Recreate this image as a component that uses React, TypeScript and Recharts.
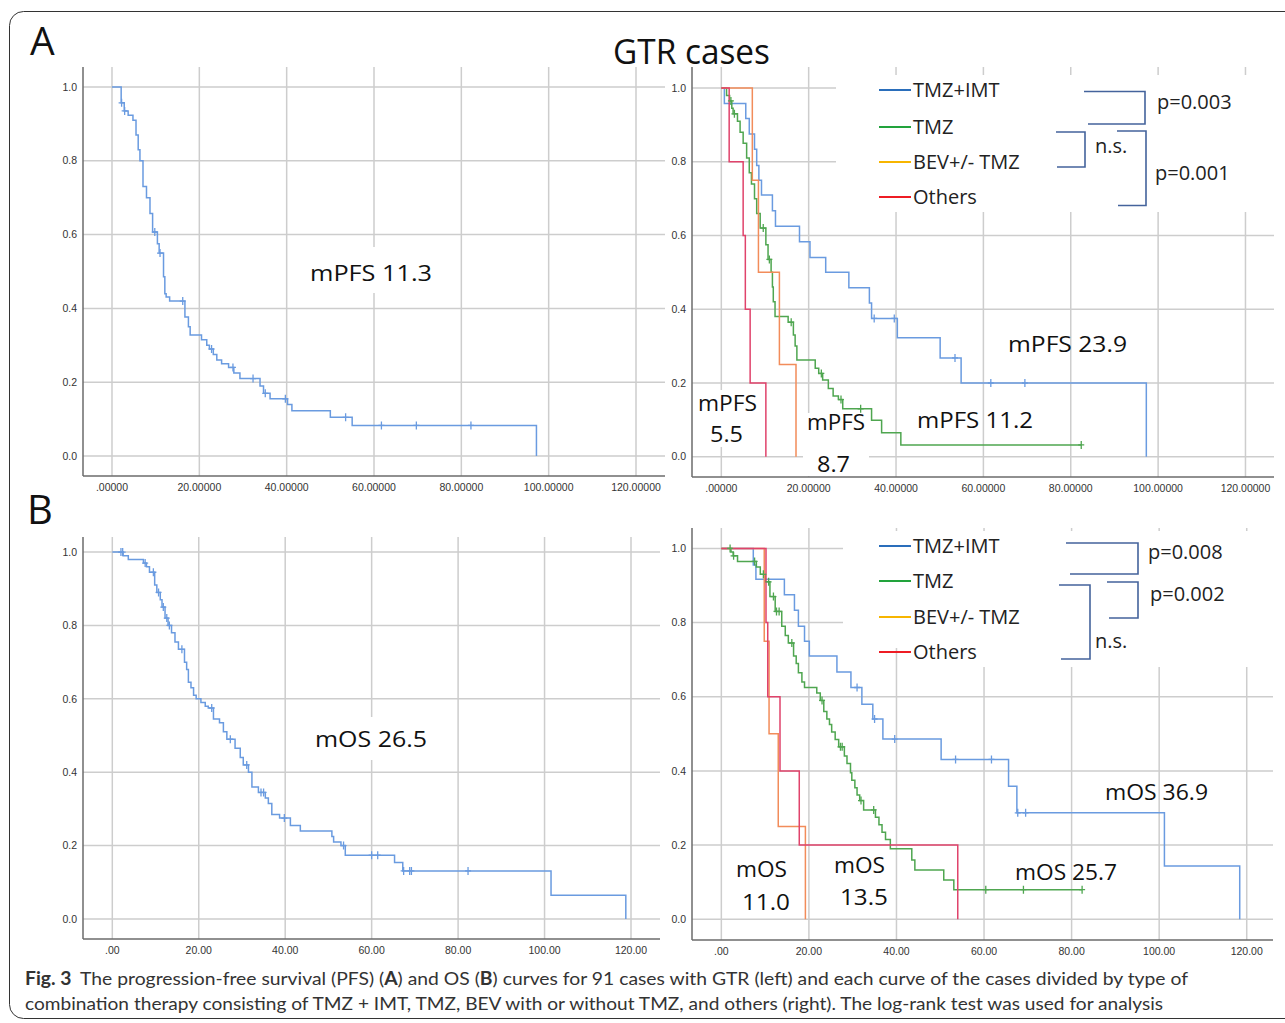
import React from 'react';
import { ComposedChart, Line, Scatter, XAxis, YAxis, CartesianGrid } from 'recharts';

// ---------------- DATA ----------------
const X_TICKS = [0, 20, 40, 60, 80, 100, 120];
const Y_TICKS = [0, 0.2, 0.4, 0.6, 0.8, 1.0];
const GROUP_NAMES = ['TMZ+IMT', 'TMZ', 'BEV+/- TMZ', 'Others'];

// A left: PFS, all GTR cases
const pfsAllT = [0, 2.1, 2.8, 3.7, 4.8, 5.5, 6.0, 6.4, 7.1, 7.9, 8.7, 9.3, 10.4, 10.8, 11.8, 12.1, 12.4, 13.2, 16.7, 17.5, 17.9, 20.5, 21.7, 22.3, 23.2, 24.0, 25.1, 26.7, 27.9, 29.3, 33.9, 34.7, 36.2, 40.2, 41.2, 50.0, 55.0, 97.2];
const pfsAllS = [1, 0.957, 0.935, 0.923, 0.91, 0.87, 0.83, 0.8, 0.73, 0.7, 0.657, 0.607, 0.575, 0.55, 0.486, 0.44, 0.431, 0.42, 0.377, 0.35, 0.328, 0.315, 0.3, 0.29, 0.275, 0.26, 0.25, 0.24, 0.225, 0.21, 0.19, 0.17, 0.155, 0.14, 0.123, 0.105, 0.083, 0];
const pfsAllC = [2.2, 2.9, 9.8, 11.0, 16.2, 22.8, 27.7, 32.3, 35.1, 39.7, 53.5, 61.7, 69.7, 82.2];

// A right: PFS by group
const pfsImtT = [0, 0.7, 5.6, 6.4, 7.6, 8.1, 8.6, 9.2, 11.7, 12.4, 17.9, 20.3, 23.9, 29.2, 33.9, 34.4, 40.3, 50.1, 54.9, 97.3];
const pfsImtS = [1, 0.958, 0.917, 0.875, 0.834, 0.79, 0.75, 0.71, 0.667, 0.625, 0.583, 0.54, 0.5, 0.458, 0.417, 0.375, 0.323, 0.268, 0.2, 0];
const pfsImtC = [35.0, 39.6, 53.5, 61.7, 69.5];

const pfsTmzT = [0, 1.2, 1.9, 2.4, 2.7, 3.7, 4.3, 5.0, 5.8, 6.4, 6.9, 7.6, 8.1, 8.9, 10.2, 10.7, 11.4, 11.7, 11.9, 12.3, 15.3, 16.5, 16.9, 17.3, 21.5, 22.3, 23.2, 24.5, 25.6, 26.8, 27.8, 34.4, 36.7, 41.1, 82.4];
const pfsTmzS = [1, 0.98, 0.965, 0.945, 0.93, 0.91, 0.88, 0.85, 0.81, 0.77, 0.74, 0.7, 0.66, 0.62, 0.575, 0.535, 0.5, 0.46, 0.42, 0.38, 0.365, 0.33, 0.3, 0.262, 0.24, 0.226, 0.208, 0.185, 0.165, 0.155, 0.13, 0.099, 0.065, 0.032, 0.032];
const pfsTmzC = [2.2, 3.0, 9.6, 11.0, 16.0, 22.9, 27.4, 31.9, 82.4];

const pfsBevT = [0, 7.1, 8.5, 13.3, 17.1];
const pfsBevS = [1, 0.75, 0.5, 0.25, 0];

const pfsOthT = [0, 1.8, 5.0, 5.5, 6.6, 10.2];
const pfsOthS = [1, 0.8, 0.6, 0.4, 0.2, 0];

// B left: OS, all GTR cases
const osAllT = [0, 2.5, 3.7, 7.2, 7.9, 8.6, 9.8, 10.3, 11.1, 11.5, 12.2, 12.9, 13.7, 14.5, 15.3, 16.7, 17.2, 17.6, 18.2, 18.8, 19.4, 20.5, 21.5, 22.2, 23.4, 24.8, 25.7, 26.5, 28.4, 29.6, 30.3, 31.5, 32.3, 33.8, 35.4, 36.1, 36.9, 38.7, 41.2, 43.5, 50.8, 51.2, 52.9, 53.9, 65.3, 67.2, 101.5, 118.8];
const osAllS = [1, 0.99, 0.98, 0.97, 0.96, 0.945, 0.91, 0.89, 0.87, 0.85, 0.82, 0.8, 0.78, 0.755, 0.735, 0.7, 0.68, 0.645, 0.63, 0.61, 0.6, 0.59, 0.58, 0.575, 0.545, 0.535, 0.51, 0.49, 0.465, 0.44, 0.42, 0.4, 0.36, 0.345, 0.33, 0.315, 0.285, 0.275, 0.255, 0.24, 0.225, 0.21, 0.2, 0.174, 0.154, 0.131, 0.065, 0];
const osAllC = [2.0, 2.4, 7.6, 9.5, 10.7, 11.8, 12.6, 13.2, 16.1, 23.0, 27.3, 31.1, 34.4, 35.0, 39.8, 53.5, 60.0, 61.4, 67.4, 68.8, 69.2, 82.3];

// B right: OS by group
const osImtT = [0, 7.3, 7.9, 14.4, 16.7, 17.6, 19.0, 20.1, 26.4, 29.6, 32.1, 34.6, 36.9, 50.2, 65.6, 67.5, 101.2, 118.4];
const osImtS = [1, 0.955, 0.917, 0.875, 0.833, 0.79, 0.75, 0.71, 0.667, 0.625, 0.58, 0.54, 0.486, 0.431, 0.359, 0.287, 0.144, 0];
const osImtC = [31.0, 35.0, 39.6, 53.5, 61.7, 67.7, 69.5];

const osTmzT = [0, 2.2, 2.7, 3.7, 8.0, 8.9, 10.0, 11.1, 12.3, 13.8, 14.6, 15.3, 16.5, 17.1, 17.6, 18.4, 19.0, 21.8, 22.6, 23.4, 24.1, 24.7, 25.2, 26.0, 26.8, 28.1, 28.7, 29.5, 29.8, 30.5, 31.0, 31.6, 32.5, 35.2, 36.0, 36.7, 37.5, 38.6, 43.5, 44.2, 50.8, 53.1, 82.4];
const osTmzS = [1, 0.99, 0.98, 0.965, 0.95, 0.93, 0.91, 0.87, 0.83, 0.79, 0.765, 0.745, 0.71, 0.69, 0.665, 0.64, 0.625, 0.61, 0.59, 0.56, 0.54, 0.525, 0.505, 0.485, 0.465, 0.44, 0.42, 0.395, 0.375, 0.355, 0.335, 0.32, 0.295, 0.275, 0.255, 0.235, 0.215, 0.19, 0.16, 0.133, 0.106, 0.08, 0.08];
const osTmzC = [2.0, 2.8, 7.6, 9.6, 10.8, 11.9, 12.6, 13.2, 16.1, 23.0, 27.2, 27.6, 31.9, 34.8, 60.4, 69.0, 82.4];

const osBevT = [0, 9.8, 10.9, 13.0, 19.2];
const osBevS = [1, 0.75, 0.5, 0.25, 0];

const osOthT = [0, 10.2, 10.6, 13.4, 17.8, 54.0];
const osOthS = [1, 0.8, 0.6, 0.4, 0.2, 0];

// ---------------- STYLE ----------------
const CURVE = { imt: '#6a9be0', tmz: '#4fa650', bev: '#f28c5a', oth: '#e0436b' };
const SWATCH = ['#2a6ebb', '#22a33c', '#f7b500', '#ee1c24'];
const GRID = '#cdcdcd';
const AXIS = '#6b6b6b';
const SANS = "'Open Sans', 'Noto Sans', sans-serif";
const TICKFONT = "'Liberation Sans', Arial, sans-serif";
const BRACKET = '#44639c';

type Series = { key: string; color: string; times: number[]; surv: number[]; cens: number[] };

function steps(times: number[], surv: number[]) {
  return times.map((t, i) => ({ t, s: surv[i] }));
}
function censorPts(times: number[], surv: number[], cens: number[]) {
  return cens.map((c) => {
    let s = surv[0];
    for (let i = 0; i < times.length; i++) if (times[i] <= c) s = surv[i];
    return { t: c, s };
  });
}

const makePlus = (color: string) => (props: any) => {
  const { cx, cy } = props;
  if (cx == null || cy == null) return <g />;
  return (
    <path d={`M${cx},${cy - 4}V${cy + 4}M${cx - 3},${cy}H${cx + 3}`} stroke={color} strokeWidth={1.3} fill="none" />
  );
};

type Geo = { px0: number; px1: number; py0: number; py1: number; xDomain: [number, number]; yDomain: [number, number] };

function KMPanel({ geo, series, xFmt }: { geo: Geo; series: Series[]; xFmt: (v: number) => string }) {
  const yAxisW = 40, mt = 4, mr = 8, xAxisH = 26;
  const left = geo.px0 - yAxisW;
  const top = geo.py0 - mt;
  const width = geo.px1 - left + mr;
  const height = geo.py1 - top + xAxisH;
  return (
    <div style={{ position: 'absolute', left, top, width, height }}>
      <ComposedChart width={width} height={height} margin={{ top: mt, right: mr, bottom: 0, left: 0 }}>
        <CartesianGrid stroke={GRID} strokeWidth={1.5} syncWithTicks />
        <XAxis
          type="number"
          dataKey="t"
          domain={geo.xDomain}
          ticks={X_TICKS}
          interval={0}
          allowDataOverflow
          tickFormatter={xFmt}
          height={xAxisH}
          tickLine={false}
          axisLine={{ stroke: AXIS, strokeWidth: 1.5 }}
          tick={{ fontSize: 10.5, fill: '#333', fontFamily: TICKFONT }}
        />
        <YAxis
          type="number"
          dataKey="s"
          domain={geo.yDomain}
          ticks={Y_TICKS}
          interval={0}
          allowDataOverflow
          width={yAxisW}
          tickSize={4}
          tickLine={false}
          tickFormatter={(v: number) => v.toFixed(1)}
          axisLine={{ stroke: AXIS, strokeWidth: 1.5 }}
          tick={{ fontSize: 10.5, fill: '#333', fontFamily: TICKFONT }}
        />
        {series.map((s) => (
          <Line
            key={'l' + s.key}
            data={steps(s.times, s.surv)}
            dataKey="s"
            type="stepAfter"
            stroke={s.color}
            strokeWidth={1.5}
            dot={false}
            activeDot={false}
            isAnimationActive={false}
          />
        ))}
        {series
          .filter((s) => s.cens.length > 0)
          .map((s) => (
            <Scatter
              key={'c' + s.key}
              data={censorPts(s.times, s.surv, s.cens)}
              dataKey="s"
              shape={makePlus(s.color)}
              isAnimationActive={false}
            />
          ))}
      </ComposedChart>
    </div>
  );
}

const fmtA = (v: number) => (v === 0 ? '.00000' : v.toFixed(5));
const fmtB = (v: number) => (v === 0 ? '.00' : v.toFixed(2));

const GEO_AL: Geo = { px0: 83, px1: 665, py0: 67, py1: 476, xDomain: [-6.64, 126.64], yDomain: [-0.054, 1.054] };
const GEO_AR: Geo = { px0: 692, px1: 1274, py0: 67, py1: 477, xDomain: [-6.71, 126.53], yDomain: [-0.055, 1.057] };
const GEO_BL: Geo = { px0: 83, px1: 660, py0: 537, py1: 939, xDomain: [-6.78, 126.71], yDomain: [-0.0545, 1.041] };
const GEO_BR: Geo = { px0: 692, px1: 1273, py0: 528, py1: 940, xDomain: [-6.7, 126.0], yDomain: [-0.0558, 1.055] };

const seriesAL: Series[] = [{ key: 'all', color: CURVE.imt, times: pfsAllT, surv: pfsAllS, cens: pfsAllC }];
const seriesAR: Series[] = [
  { key: 'imt', color: CURVE.imt, times: pfsImtT, surv: pfsImtS, cens: pfsImtC },
  { key: 'tmz', color: CURVE.tmz, times: pfsTmzT, surv: pfsTmzS, cens: pfsTmzC },
  { key: 'bev', color: CURVE.bev, times: pfsBevT, surv: pfsBevS, cens: [] },
  { key: 'oth', color: CURVE.oth, times: pfsOthT, surv: pfsOthS, cens: [] },
];
const seriesBL: Series[] = [{ key: 'all', color: CURVE.imt, times: osAllT, surv: osAllS, cens: osAllC }];
const seriesBR: Series[] = [
  { key: 'imt', color: CURVE.imt, times: osImtT, surv: osImtS, cens: osImtC },
  { key: 'tmz', color: CURVE.tmz, times: osTmzT, surv: osTmzS, cens: osTmzC },
  { key: 'bev', color: CURVE.bev, times: osBevT, surv: osBevS, cens: [] },
  { key: 'oth', color: CURVE.oth, times: osOthT, surv: osOthS, cens: [] },
];

// annotation layout
type Ann = { text: string; x: number; y: number; w: number; bg?: [number, number, number, number] };
const ANNS: Ann[] = [
  { text: 'mPFS 11.3', x: 310, y: 281, w: 122, bg: [300, 247, 142, 46] },
  { text: 'mPFS  23.9', x: 1008, y: 352, w: 119 },
  { text: 'mPFS  11.2', x: 917, y: 428, w: 116 },
  { text: 'mPFS', x: 698, y: 411, w: 59, bg: [694, 390, 68, 57] },
  { text: '5.5', x: 710, y: 442, w: 33 },
  { text: 'mPFS', x: 807, y: 430, w: 58, bg: [803, 413, 66, 63] },
  { text: '8.7', x: 817, y: 472, w: 33 },
  { text: 'mOS 26.5', x: 315, y: 747, w: 112, bg: [305, 717, 135, 43] },
  { text: 'mOS 36.9', x: 1105, y: 800, w: 103 },
  { text: 'mOS 25.7', x: 1015, y: 880, w: 102 },
  { text: 'mOS', x: 736, y: 877, w: 51 },
  { text: '11.0', x: 742, y: 910, w: 48 },
  { text: 'mOS', x: 834, y: 873, w: 51 },
  { text: '13.5', x: 840, y: 905, w: 48 },
];

type Legend = { rows: number[]; boxes: [number, number, number, number][]; brackets: string[]; pTexts: { t: string; x: number; y: number }[] };
const LEG_A: Legend = {
  rows: [97, 134, 169, 204],
  boxes: [[836, 75, 449, 137]],
  brackets: ['M1084,91.5H1145V124H1088', 'M1056,132H1085V167H1057', 'M1117,131H1146V205.5H1118'],
  pTexts: [
    { t: 'p=0.003', x: 1157, y: 109 },
    { t: 'n.s.', x: 1095, y: 153 },
    { t: 'p=0.001', x: 1155, y: 180 },
  ],
};
const LEG_B: Legend = {
  rows: [553, 588, 624, 659],
  boxes: [[843, 531, 120, 117], [960, 531, 325, 136]],
  brackets: ['M1066,543H1138V574H1070', 'M1107,582H1138V618H1109', 'M1059,585H1090V659H1061'],
  pTexts: [
    { t: 'p=0.008', x: 1148, y: 559 },
    { t: 'p=0.002', x: 1150, y: 601 },
    { t: 'n.s.', x: 1095, y: 648 },
  ],
};

function LegendBlock({ L }: { L: Legend }) {
  return (
    <g>
      {L.boxes.map((b, i) => (
        <rect key={'b' + i} x={b[0]} y={b[1]} width={b[2]} height={b[3]} fill="#fff" />
      ))}
      {GROUP_NAMES.map((n, i) => (
        <g key={n}>
          <line x1={879} x2={911} y1={L.rows[i] - 7} y2={L.rows[i] - 7} stroke={SWATCH[i]} strokeWidth={2} />
          <text x={913} y={L.rows[i]} fontSize={20} fontFamily={SANS} fill="#222">
            {n}
          </text>
        </g>
      ))}
      {L.brackets.map((d, i) => (
        <path key={'k' + i} d={d} stroke={BRACKET} strokeWidth={1.6} fill="none" />
      ))}
      {L.pTexts.map((p, i) => (
        <text key={'p' + i} x={p.x} y={p.y} fontSize={20} fontFamily={SANS} fill="#222">
          {p.t}
        </text>
      ))}
    </g>
  );
}

export default function App() {
  return (
    <div style={{ position: 'absolute', left: 0, top: 0, width: 1285, height: 1023, overflow: 'hidden', background: '#fff' }}>
      <KMPanel geo={GEO_AL} series={seriesAL} xFmt={fmtA} />
      <KMPanel geo={GEO_AR} series={seriesAR} xFmt={fmtA} />
      <KMPanel geo={GEO_BL} series={seriesBL} xFmt={fmtB} />
      <KMPanel geo={GEO_BR} series={seriesBR} xFmt={fmtB} />
      <svg width={1285} height={1023} style={{ position: 'absolute', left: 0, top: 0, pointerEvents: 'none' }}>
        <rect x={9.5} y={11.5} width={1400} height={1007} rx={14} fill="none" stroke="#333" strokeWidth={1} />
        <text x={30} y={55} fontSize={39} fontFamily={SANS} fill="#111">A</text>
        <text x={27} y={524} fontSize={40} fontFamily={SANS} fill="#111">B</text>
        <text x={613} y={64} fontSize={34} fontFamily={SANS} fill="#111" textLength={157} lengthAdjust="spacingAndGlyphs">
          GTR cases
        </text>
        <LegendBlock L={LEG_A} />
        <LegendBlock L={LEG_B} />
        {ANNS.map((a, i) => (
          <g key={i}>
            {a.bg && <rect x={a.bg[0]} y={a.bg[1]} width={a.bg[2]} height={a.bg[3]} fill="#fff" />}
          </g>
        ))}
        {ANNS.map((a, i) => (
          <text key={'t' + i} x={a.x} y={a.y} fontSize={22} fontFamily={SANS} fill="#111" textLength={a.w} lengthAdjust="spacingAndGlyphs">
            {a.text}
          </text>
        ))}
        <text x={25} y={985} fontSize={18} fontFamily="Lato, 'Open Sans', sans-serif" fill="#333" textLength={1163} lengthAdjust="spacingAndGlyphs">
          <tspan fontWeight={700}>Fig. 3</tspan>
          <tspan dx={8}>The progression-free survival (PFS) (</tspan>
          <tspan fontWeight={700}>A</tspan>
          <tspan>) and OS (</tspan>
          <tspan fontWeight={700}>B</tspan>
          <tspan>) curves for 91 cases with GTR (left) and each curve of the cases divided by type of</tspan>
        </text>
        <text x={25} y={1010} fontSize={18} fontFamily="Lato, 'Open Sans', sans-serif" fill="#333" textLength={1138} lengthAdjust="spacingAndGlyphs">
          combination therapy consisting of TMZ + IMT, TMZ, BEV with or without TMZ, and others (right). The log-rank test was used for analysis
        </text>
      </svg>
    </div>
  );
}
